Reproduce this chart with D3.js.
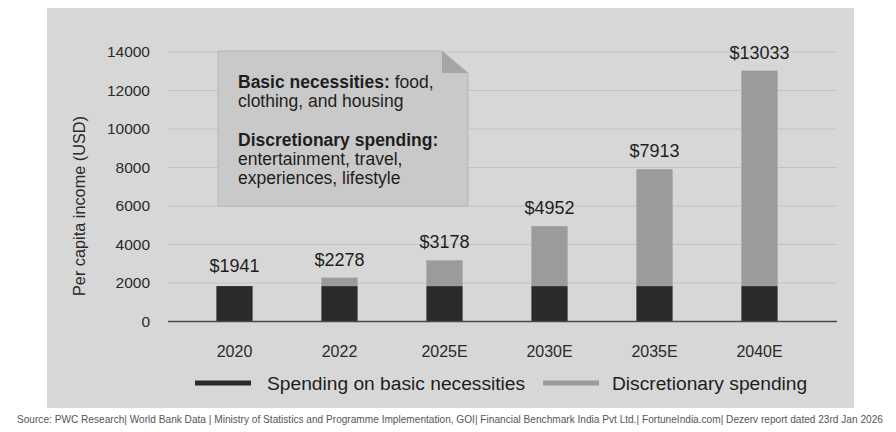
<!DOCTYPE html>
<html><head><meta charset="utf-8">
<script src="https://cdn.jsdelivr.net/npm/d3@7"></script>
<style>
html,body{margin:0;padding:0;background:#fff;}
svg{display:block;font-family:"Liberation Sans",Arial,sans-serif;}
</style></head>
<body><svg id="c" width="896" height="432"></svg>
<script>
const categories = ["2020","2022","2025E","2030E","2035E","2040E"];
const totals = [1941, 2278, 3178, 4952, 7913, 13033];
const basicSpending = [1840, 1840, 1840, 1840, 1840, 1840];
const discretionary = [0, 438, 1338, 3112, 6073, 11193];
const yTicks = [0, 2000, 4000, 6000, 8000, 10000, 12000, 14000];
const seriesNames = ["Spending on basic necessities", "Discretionary spending"];
const colors = ["#2a2a2a", "#9b9b9b"];

const svg = d3.select("#c");
svg.append("rect").attr("x",47).attr("y",8).attr("width",807).attr("height",400).attr("fill","#d7d7d7");

const y = d3.scaleLinear().domain([0,14000]).range([321.5,52]);
const x = d3.scaleBand().domain(categories).range([182,812]).paddingInner(0.655).paddingOuter(0.3275);

svg.append("g").selectAll("line").data(yTicks.filter(d=>d>0)).join("line")
  .attr("x1",168).attr("x2",837).attr("y1",d=>y(d)).attr("y2",d=>y(d))
  .attr("stroke","#c2c2c2").attr("stroke-width",1);

const ya = svg.append("g").attr("transform","translate(150,0)")
  .call(d3.axisLeft(y).tickValues(yTicks).tickSize(0).tickPadding(0).tickFormat(d3.format("d")));
ya.select(".domain").remove();
ya.selectAll("text").attr("font-size",15.5).attr("fill","#2a2a2a").attr("font-family","Liberation Sans, Arial, sans-serif");

svg.append("text").attr("transform","translate(85,206) rotate(-90)")
  .attr("text-anchor","middle").attr("font-size",16.3).attr("fill","#2a2a2a").text("Per capita income (USD)");

const bx0=218, by0=51, bx1=468, by1=206, fold=26, foldH=22;
svg.append("path")
  .attr("d",`M${bx0},${by0}H${bx1-fold}L${bx1},${by0+foldH}V${by1}H${bx0}Z`)
  .attr("fill","#c9c9c9").attr("stroke","#b5b5b5").attr("stroke-width",1);
svg.append("path")
  .attr("d",`M${bx1-fold},${by0}V${by0+foldH}H${bx1}Z`).attr("fill","#a6a6a6");

const ann = svg.append("text").attr("font-size",17.5).attr("fill","#1e1e1e");
const lines = [
  [["Basic necessities:",700],[" food,",400]],
  [["clothing, and housing",400]],
  null,
  [["Discretionary spending:",700]],
  [["entertainment, travel,",400]],
  [["experiences, lifestyle",400]]
];
let ly = 88;
lines.forEach(l=>{
  if(l){
    const t = ann.append("tspan").attr("x",238).attr("y",ly);
    l.forEach((p,i)=>{ (i===0?t:ann.append("tspan")).text(p[0]).attr("font-weight",p[1]); });
    ly += 19;
  } else ly += 20;
});

const stackData = categories.map((c,i)=>({cat:c, basic:basicSpending[i], disc:discretionary[i]}));
const stack = d3.stack().keys(["basic","disc"])(stackData);
svg.append("g").selectAll("g").data(stack).join("g").attr("fill",(d,i)=>colors[i])
  .selectAll("rect").data(d=>d).join("rect")
  .attr("x",d=>x(d.data.cat)).attr("width",x.bandwidth())
  .attr("y",d=>y(d[1])).attr("height",d=>y(d[0])-y(d[1]));

svg.append("line").attr("x1",168).attr("x2",837).attr("y1",y(0)).attr("y2",y(0))
  .attr("stroke","#4a4a4a").attr("stroke-width",1.5);

svg.append("g").selectAll("text").data(categories).join("text")
  .attr("x",d=>x(d)+x.bandwidth()/2)
  .attr("y",(d,i)=>y(Math.max(totals[i], basicSpending[i]+discretionary[i]))-12)
  .attr("text-anchor","middle").attr("font-size",18).attr("fill","#1e1e1e")
  .text((d,i)=>"$"+totals[i]);

const xa = svg.append("g").attr("transform","translate(0,346)")
  .call(d3.axisBottom(x).tickSize(0).tickPadding(0));
xa.select(".domain").remove();
xa.selectAll("text").attr("font-size",16).attr("fill","#2a2a2a").attr("font-family","Liberation Sans, Arial, sans-serif");

const leg = [{x:195,tx:267},{x:543,tx:612}];
seriesNames.forEach((n,i)=>{
  svg.append("rect").attr("x",leg[i].x).attr("y",380.5).attr("width",56).attr("height",5).attr("fill",colors[i]);
  svg.append("text").attr("x",leg[i].tx).attr("y",389.5).attr("font-size",19.2).attr("fill","#1e1e1e").text(n);
});

const src = svg.append("text").attr("x",17).attr("y",423)
  .attr("font-size",11).attr("fill","#555")
  .text("Source: PWC Research| World Bank Data | Ministry of Statistics and Programme Implementation, GOI| Financial Benchmark India Pvt Ltd.| FortuneIndia.com| Dezerv report dated 23rd Jan 2026");
const w = src.node().getComputedTextLength();
if (w > 866) src.attr("font-size", 11*866/w);
</script></body></html>
